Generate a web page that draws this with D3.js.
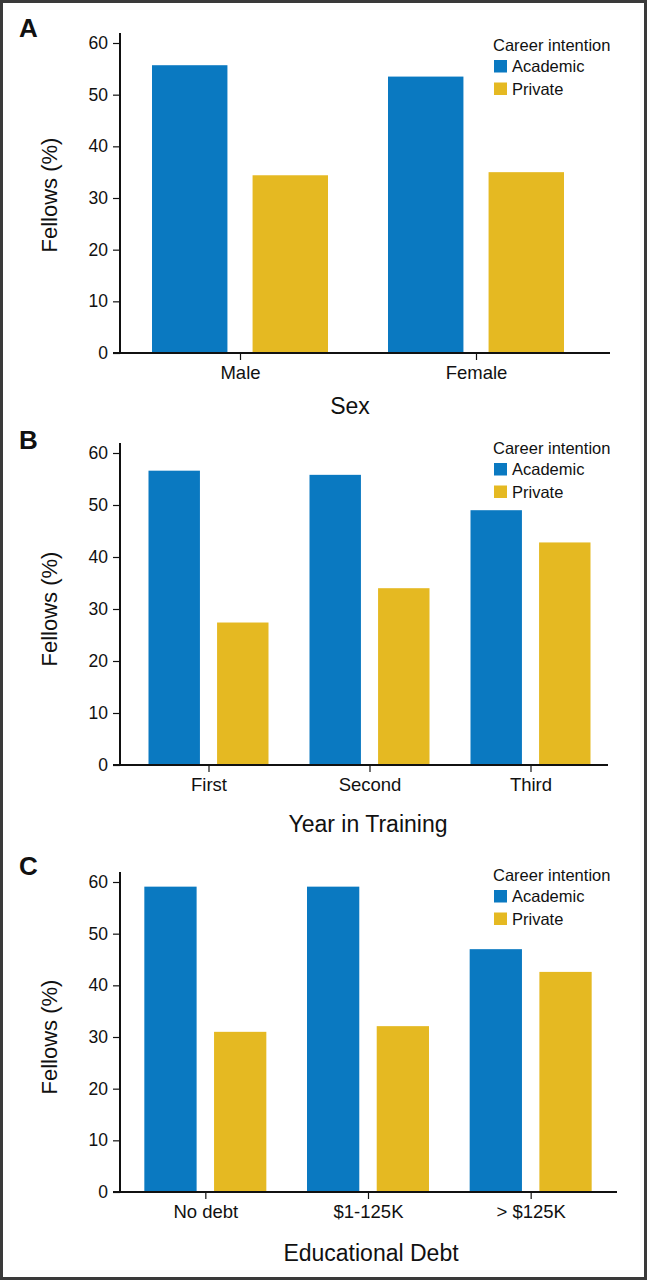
<!DOCTYPE html>
<html>
<head>
<meta charset="utf-8">
<script src="https://cdn.jsdelivr.net/npm/d3@7"></script>
<style>
  html, body { margin: 0; padding: 0; background: #fff; }
  svg { display: block; }
  text { font-family: "Liberation Sans", Arial, Helvetica, sans-serif; fill: #111; }
  .cond { font-family: "Liberation Sans Narrow", "Arial Narrow", "Liberation Sans", Arial, sans-serif; }
</style>
</head>
<body>
<svg id="chart" width="647" height="1280"></svg>
<script>
// ---- data ----
const seriesNames = ["Academic", "Private"];
const legendTitle = "Career intention";
const yTicks = [0, 10, 20, 30, 40, 50, 60];
const yLabel = "Fellows (%)";

const panelLetters = ["A", "B", "C"];
const panelTitles = ["Sex", "Year in Training", "Educational Debt"];

const sexCategories = ["Male", "Female"];
const sexAcademic = [55.7, 53.5];
const sexPrivate = [34.4, 35.0];

const yearCategories = ["First", "Second", "Third"];
const yearAcademic = [56.6, 55.8, 49.0];
const yearPrivate = [27.4, 34.0, 42.8];

const debtCategories = ["No debt", "$1-125K", "> $125K"];
const debtAcademic = [59.1, 59.1, 47.0];
const debtPrivate = [31.0, 32.1, 42.6];

const colors = { Academic: "#0a79c1", Private: "#e5b922" };

// ---- layout ----
const panels = [
  { letter: panelLetters[0], title: panelTitles[0], cats: sexCategories, acad: sexAcademic, priv: sexPrivate,
    y0: 353, y60: 43, xr: [122, 594], half: 88, axisEnd: 610, titleX: 350, titleY: 414, letterY: 37, legTop: 60, ylabY: 195 },
  { letter: panelLetters[1], title: panelTitles[1], cats: yearCategories, acad: yearAcademic, priv: yearPrivate,
    y0: 765, y60: 453, xr: [128, 611], half: 60, axisEnd: 608, titleX: 368, titleY: 832, letterY: 449, legTop: 463, ylabY: 609 },
  { letter: panelLetters[2], title: panelTitles[2], cats: debtCategories, acad: debtAcademic, priv: debtPrivate,
    y0: 1192, y60: 882, xr: [124, 612], half: 61, axisEnd: 617, titleX: 371, titleY: 1261, letterY: 875, legTop: 890, ylabY: 1037 }
];

const svg = d3.select("#chart");
const axisX = 120;

// frame
svg.append("rect").attr("x", 1.5).attr("y", 1.5).attr("width", 644).attr("height", 1277)
  .attr("fill", "none").attr("stroke", "#3a3a3a").attr("stroke-width", 3);

panels.forEach(p => {
  const g = svg.append("g");
  const y = d3.scaleLinear().domain([0, 60]).range([p.y0, p.y60]);
  const x = d3.scalePoint().domain(p.cats).range(p.xr).padding(0.5);
  const xs = d3.scaleBand().domain(seriesNames).range([-p.half, p.half]).paddingInner(0.25);

  const rows = p.cats.map((c, i) => ({ cat: c, Academic: p.acad[i], Private: p.priv[i] }));

  // bars
  rows.forEach(r => {
    seriesNames.forEach(s => {
      g.append("rect")
        .attr("x", x(r.cat) + xs(s))
        .attr("width", xs.bandwidth())
        .attr("y", y(r[s]))
        .attr("height", y(0) - y(r[s]))
        .attr("fill", colors[s]);
    });
  });

  // y axis
  const ya = g.append("g").attr("transform", `translate(${axisX},0)`)
    .call(d3.axisLeft(y).tickValues(yTicks).tickSize(7).tickPadding(5));
  ya.select(".domain").remove();
  ya.selectAll(".tick line").attr("stroke", "#111").attr("stroke-width", 1.2);
  ya.selectAll(".tick text").attr("font-size", 17.5).attr("font-family", "Liberation Sans, Arial, sans-serif").attr("fill", "#111");
  g.append("line").attr("x1", axisX).attr("x2", axisX).attr("y1", p.y60 - 10).attr("y2", p.y0)
    .attr("stroke", "#111").attr("stroke-width", 2);

  // x axis
  const xa = g.append("g").attr("transform", `translate(0,${p.y0})`)
    .call(d3.axisBottom(x).tickSize(7).tickPadding(6));
  xa.select(".domain").remove();
  xa.selectAll(".tick line").attr("stroke", "#111").attr("stroke-width", 1.2);
  xa.selectAll(".tick text").attr("font-size", 18.5).attr("font-family", "Liberation Sans, Arial, sans-serif").attr("fill", "#111");
  g.append("line").attr("x1", axisX - 7).attr("x2", p.axisEnd).attr("y1", p.y0).attr("y2", p.y0)
    .attr("stroke", "#111").attr("stroke-width", 2);

  // axis titles
  g.append("text").attr("class", "cond").attr("x", p.titleX).attr("y", p.titleY)
    .attr("text-anchor", "middle").attr("font-size", 23).text(p.title);
  g.append("text").attr("class", "cond")
    .attr("transform", `translate(57,${p.ylabY}) rotate(-90)`)
    .attr("text-anchor", "middle").attr("font-size", 22).text(yLabel);

  // panel letter
  g.append("text").attr("x", 19).attr("y", p.letterY).attr("font-size", 26).attr("font-weight", "bold").text(p.letter);

  // legend
  const lg = g.append("g").attr("transform", `translate(494,${p.legTop})`);
  lg.append("text").attr("x", -1).attr("y", -9).attr("font-size", 16.5).text(legendTitle);
  seriesNames.forEach((s, i) => {
    lg.append("rect").attr("x", 0).attr("y", i * 22.5).attr("width", 13).attr("height", 12.5).attr("fill", colors[s]);
    lg.append("text").attr("x", 18).attr("y", i * 22.5 + 12).attr("font-size", 16.5).text(s);
  });
});
</script>
</body>
</html>
